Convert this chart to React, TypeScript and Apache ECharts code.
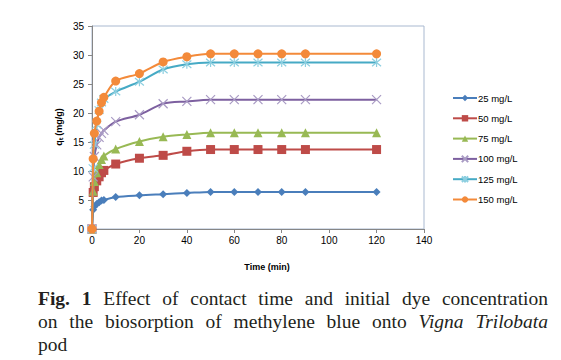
import React, { useEffect, useRef } from "react";
import * as echarts from "echarts";

const times = [0, 0.5, 1, 2, 3, 4, 5, 10, 20, 30, 40, 50, 60, 70, 80, 90, 120];
const q25 = [0, 3.3, 3.9, 4.3, 4.6, 4.9, 5.0, 5.5, 5.8, 6.0, 6.2, 6.4, 6.4, 6.4, 6.4, 6.4, 6.4];
const q50 = [0, 6.3, 7.3, 8.3, 9.0, 9.7, 10.1, 11.2, 12.2, 12.7, 13.4, 13.7, 13.7, 13.7, 13.7, 13.7, 13.7];
const q75 = [0, 6.5, 8.2, 9.7, 11.1, 12.0, 12.6, 13.8, 15.1, 15.9, 16.3, 16.6, 16.6, 16.6, 16.6, 16.6, 16.6];
const q100 = [0, 9.0, 12.5, 14.5, 15.8, 16.5, 17.0, 18.5, 19.7, 21.6, 22.0, 22.3, 22.3, 22.3, 22.3, 22.3, 22.3];
const q125 = [0, 10.5, 14.5, 18.0, 20.5, 21.8, 22.4, 23.7, 25.4, 27.5, 28.4, 28.7, 28.7, 28.7, 28.7, 28.7, 28.7];
const q150 = [0, 12.1, 16.5, 18.6, 20.3, 21.8, 22.7, 25.5, 26.8, 28.8, 29.7, 30.2, 30.2, 30.2, 30.2, 30.2, 30.2];

const seriesNames = ["25 mg/L", "50 mg/L", "75 mg/L", "100 mg/L", "125 mg/L", "150 mg/L"];
const seriesValues = [q25, q50, q75, q100, q125, q150];
const xTicks = { min: 0, max: 140, interval: 20 };
const yTicks = { min: 0, max: 35, interval: 5 };

const xAxisTitle = "Time (min)";
const yAxisTitle = "qₜ (mg/g)";
// caption lines: [text, style] where style is "b" bold, "i" italic, "n" normal
const captionLines: [string, string][][] = [
  [["Fig. 1", "b"], ["Effect of contact time and initial dye concentration", "n"]],
  [["on the biosorption of methylene blue onto", "n"], ["Vigna Trilobata", "i"]],
  [["pod", "n"]],
];

const colors = ["#4A7EBB", "#BE4B48", "#98B954", "#7D60A0", "#46AAC5", "#F38A3A"];
const markerColors = ["#4A7EBB", "#BE4B48", "#98B954", "#A99BC4", "#8DCFE0", "#F38A3A"];
const symbols = [
  "diamond",
  "rect",
  "triangle",
  "path://M0,0L10,10M10,0L0,10",
  "path://M0,0L10,10M10,0L0,10M5,-1L5,11",
  "circle",
];
const symbolSizes = [8, 9, 9, 9, 9, 9];

const CAP_SIZE = 19.5;
const CAP_FAMILY = "Liberation Serif";
const fontFor = (s: string) =>
  (s === "b" ? "bold " : s === "i" ? "italic " : "") + CAP_SIZE + "px " + CAP_FAMILY;

function buildCaption(): any[] {
  const canvas = document.createElement("canvas");
  const ctx = canvas.getContext("2d")!;
  const left = 38;
  const right = 548;
  const ys = [298, 321.5, 344.5];
  const out: any[] = [];
  captionLines.forEach((line, li) => {
    const words: { w: string; f: string; width: number }[] = [];
    line.forEach(([text, st]) => {
      text.split(" ").forEach((w) => {
        const f = fontFor(st);
        ctx.font = f;
        words.push({ w, f, width: ctx.measureText(w).width });
      });
    });
    const justify = li < captionLines.length - 1 && words.length > 1;
    const total = words.reduce((a, b) => a + b.width, 0);
    ctx.font = fontFor("n");
    const normalGap = ctx.measureText(" ").width;
    const gap = justify ? (right - left - total) / (words.length - 1) : normalGap;
    let x = left;
    words.forEach((wd) => {
      out.push({
        type: "text",
        x,
        y: ys[li],
        style: {
          text: wd.w,
          font: wd.f,
          fill: "#231F20",
          align: "left",
          verticalAlign: "middle",
        },
      });
      x += wd.width + gap;
    });
  });
  return out;
}

export default function App() {
  const ref = useRef<HTMLDivElement>(null);
  useEffect(() => {
    document.body.style.margin = "0";
    const chart = echarts.init(ref.current!, null, { renderer: "svg" });
    const series = seriesNames.map((name, i) => {
      const stroked = i === 3 || i === 4;
      return {
        name,
        type: "line",
        data: times.map((t, k) => [t, seriesValues[i][k]]),
        smooth: 0.3,
        symbol: symbols[i],
        symbolSize: symbolSizes[i],
        showAllSymbol: true,
        color: colors[i],
        lineStyle: { color: colors[i], width: 2 },
        itemStyle: stroked
          ? { color: "rgba(0,0,0,0)", borderColor: markerColors[i], borderWidth: 1.2 }
          : { color: markerColors[i] },
        z: 2 + i,
      };
    });
    chart.setOption({
      animation: false,
      textStyle: { fontFamily: "Liberation Sans" },
      grid: {
        left: 92,
        right: 137,
        top: 26,
        bottom: 131,
        show: true,
        borderColor: "#A9B9D0",
        borderWidth: 1,
      },
      legend: {
        orient: "vertical",
        left: 447,
        top: 88,
        itemWidth: 24,
        itemHeight: 8,
        itemGap: 10.3,
        textStyle: { fontSize: 9.5, color: "#000", fontFamily: "Liberation Sans", padding: [0, 0, 0, -4] },
        data: seriesNames,
      },
      xAxis: {
        type: "value",
        min: xTicks.min,
        max: xTicks.max,
        interval: xTicks.interval,
        axisLine: { show: true, lineStyle: { color: "#868686" } },
        axisTick: { show: true, length: 4, lineStyle: { color: "#868686" } },
        axisLabel: { fontSize: 10, color: "#000", margin: 6 },
        splitLine: { show: false },
      },
      yAxis: {
        type: "value",
        min: yTicks.min,
        max: yTicks.max,
        interval: yTicks.interval,
        axisLine: { show: true, lineStyle: { color: "#868686" } },
        axisTick: { show: true, length: 4, lineStyle: { color: "#868686" } },
        axisLabel: { fontSize: 10, color: "#000", margin: 8 },
        splitLine: { show: false },
      },
      graphic: [
        {
          type: "text",
          x: 267,
          y: 267,
          style: {
            text: xAxisTitle,
            font: "bold 9px Liberation Sans",
            fill: "#000",
            align: "center",
            verticalAlign: "middle",
          },
        },
        {
          type: "text",
          x: 59,
          y: 127,
          rotation: Math.PI / 2,
          style: {
            text: yAxisTitle,
            font: "bold 9px Liberation Sans",
            fill: "#000",
            align: "center",
            verticalAlign: "middle",
          },
        },
        ...buildCaption(),
      ],
      series,
    });
    return () => chart.dispose();
  }, []);
  return <div ref={ref} style={{ width: 561, height: 360 }} />;
}
